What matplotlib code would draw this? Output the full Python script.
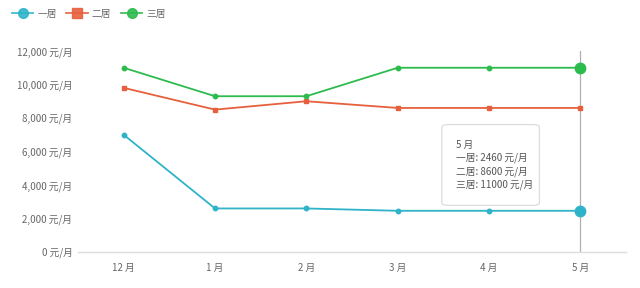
import matplotlib
matplotlib.use("Agg")
import matplotlib.pyplot as plt
from matplotlib.patches import FancyBboxPatch
from matplotlib.ticker import FuncFormatter

plt.rcParams["font.family"] = ["Noto Sans CJK SC", "DejaVu Sans"]

months = ["12 月", "1 月", "2 月", "3 月", "4 月", "5 月"]
one_room = [7000, 2600, 2600, 2460, 2460, 2460]
two_room = [9800, 8500, 9000, 8600, 8600, 8600]
three_room = [11000, 9300, 9300, 11000, 11000, 11000]
series_names = ["一居", "二居", "三居"]
y_ticks = [0, 2000, 4000, 6000, 8000, 10000, 12000]

C_ONE, C_TWO, C_THREE = "#2fb3c8", "#e6603d", "#2dbb4e"
TXT = "#666666"

fig = plt.figure(figsize=(6.4, 2.88), dpi=100)
ax = fig.add_axes([78 / 640, 1 - 252 / 288, 548 / 640, 201 / 288])

x = list(range(len(months)))
series = [(one_room, C_ONE, "o"), (two_room, C_TWO, "s"), (three_room, C_THREE, "o")]
handles = []
for (vals, col, mk), name in zip(series, series_names):
    ax.plot(x, vals, color=col, lw=1.3, marker=mk, ms=3.2, zorder=3)
    h, = ax.plot([], [], color=col, lw=1.3, marker=mk, ms=7, alpha=0.9)
    handles.append(h)

# hovered column: emphasised points and pointer line
ax.axvline(5, color="#b0b0b0", lw=0.9, zorder=2)
ax.plot(5, one_room[-1], "o", color=C_ONE, ms=7.5, zorder=4)
ax.plot(5, three_room[-1], "o", color=C_THREE, ms=7.5, zorder=4)

ax.set_xlim(-0.5, 5.5)
ax.set_ylim(0, 12000)
ax.set_xticks(x)
ax.set_xticklabels(months)
ax.set_yticks(y_ticks)
ax.yaxis.set_major_formatter(FuncFormatter(lambda v, p: f"{int(v):,} 元/月"))
ax.tick_params(axis="both", length=0, labelsize=7, colors=TXT)
ax.tick_params(axis="x", pad=8)
ax.tick_params(axis="y", pad=4)
for s in ["top", "right", "left"]:
    ax.spines[s].set_visible(False)
ax.spines["bottom"].set_color("#dddddd")
ax.spines["bottom"].set_linewidth(1.0)

# tooltip
box = FancyBboxPatch((0.664, 0.232), 0.178, 0.402, boxstyle="round,pad=0,rounding_size=0.012",
                     transform=ax.transAxes, facecolor="white", edgecolor="#dcdcdc",
                     lw=0.9, zorder=5)
ax.add_patch(box)
tip = ["5 月",
       f"一居: {one_room[-1]} 元/月",
       f"二居: {two_room[-1]} 元/月",
       f"三居: {three_room[-1]} 元/月"]
for i, line in enumerate(tip):
    ax.text(0.689, 0.535 - i * 0.067, line, transform=ax.transAxes, fontsize=7,
            color="#555555", va="center", zorder=6)

fig.legend(handles, series_names, loc="upper left", bbox_to_anchor=(0.005, 1.0),
           ncol=3, frameon=False, fontsize=7, handlelength=2.2, handletextpad=0.4,
           columnspacing=1.0, labelcolor=TXT)

fig.savefig("out.png", dpi=100)
